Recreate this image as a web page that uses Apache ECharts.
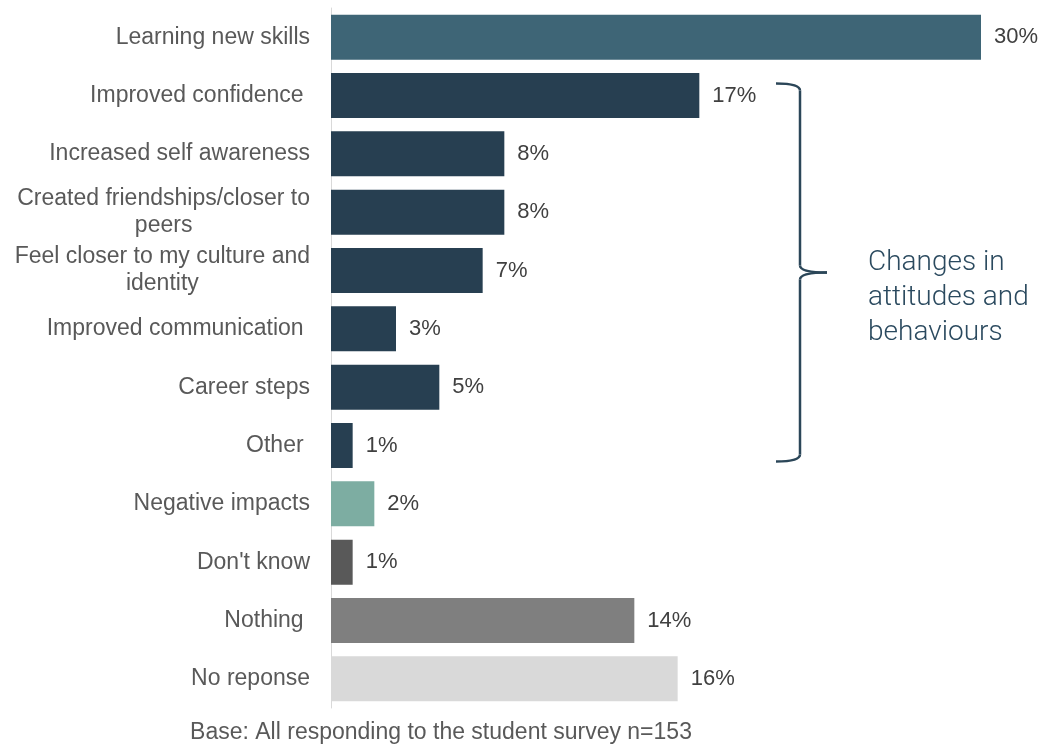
<!DOCTYPE html>
<html>
<head>
<meta charset="utf-8">
<script src="https://cdn.jsdelivr.net/npm/echarts@6/dist/echarts.min.js"></script>
<style>
  html, body { margin: 0; padding: 0; background: #ffffff; }
  #chart { width: 1043px; height: 744px; }
</style>
</head>
<body>
<div id="chart"></div>
<script>
// Reported impacts of taking part, share of respondents (%)
const categories = [
  'Learning new skills',
  'Improved confidence ',
  'Increased self awareness',
  'Created friendships/closer to\npeers',
  'Feel closer to my culture and\nidentity',
  'Improved communication ',
  'Career steps',
  'Other ',
  'Negative impacts',
  "Don't know",
  'Nothing ',
  'No reponse'
];
const values = [30, 17, 8, 8, 7, 3, 5, 1, 2, 1, 14, 16];
const barColors = [
  '#3e6576',
  '#273f51', '#273f51', '#273f51', '#273f51', '#273f51', '#273f51', '#273f51',
  '#7dada2',
  '#595959',
  '#7f7f7f',
  '#d9d9d9'
];
const groupLabel = 'Changes in\nattitudes and\nbehaviours';
const groupFirst = 1;   // 'Improved confidence'
const groupLast = 7;    // 'Other'
const baseNote = 'Base: All responding to the student survey n=153';

const FONT = '"Liberation Sans", Arial, sans-serif';
const chart = echarts.init(document.getElementById('chart'), null, { renderer: 'canvas' });

chart.setOption({
  backgroundColor: '#ffffff',
  animation: false,
  grid: { left: 331, right: 62, top: 8, bottom: 36, containLabel: false },
  xAxis: {
    type: 'value', min: 0, max: 30,
    show: false
  },
  yAxis: {
    type: 'category',
    inverse: true,
    data: categories,
    axisLine: { show: true, lineStyle: { color: '#d9d9d9', width: 1 } },
    axisTick: { show: false },
    axisLabel: {
      margin: 21,
      color: '#595959',
      fontFamily: FONT,
      fontSize: 23,
      lineHeight: 27,
      formatter: function (v) {
        const lines = v.split('\n');
        if (lines.length === 1) return v;
        return '{a|' + lines[0] + '}\n{b|' + lines[1] + '}';
      },
      rich: {
        a: { fontFamily: FONT, fontSize: 23, lineHeight: 27, color: '#595959' },
        b: { fontFamily: FONT, fontSize: 23, lineHeight: 27, color: '#595959', width: 245, align: 'center' }
      }
    }
  },
  series: [{
    type: 'bar',
    barWidth: 45,
    data: values.map((v, i) => ({ value: v, itemStyle: { color: barColors[i] } })),
    label: {
      show: true,
      position: 'right',
      distance: 13,
      color: '#404040',
      fontFamily: FONT,
      fontSize: 22,
      formatter: p => p.value + '%'
    }
  }]
});

// Curly bracket grouping the attitude/behaviour rows, placed from the category axis
const yTop = chart.convertToPixel({ yAxisIndex: 0 }, groupFirst) - 12;
const yBot = chart.convertToPixel({ yAxisIndex: 0 }, groupLast) + 16;
const yMid = (yTop + yBot) / 2;
const xL = 776, xV = 800, xTip = 827, r = 7;
const stroke = { stroke: '#2b4658', lineWidth: 2.5, fill: null };

chart.setOption({
  graphic: [
    {
      type: 'text',
      x: 441, y: 733,
      style: {
        text: baseNote, fill: '#595959', font: '23px ' + FONT,
        textAlign: 'center', textVerticalAlign: 'middle'
      }
    },
    { type: 'bezierCurve', shape: { x1: xL, y1: yTop, x2: xV, y2: yTop + r, cpx1: xV, cpy1: yTop }, style: stroke },
    { type: 'line', shape: { x1: xV, y1: yTop + r, x2: xV, y2: yMid - r }, style: stroke },
    { type: 'bezierCurve', shape: { x1: xV, y1: yMid - r, x2: xTip, y2: yMid, cpx1: xV, cpy1: yMid }, style: stroke },
    { type: 'bezierCurve', shape: { x1: xTip, y1: yMid, x2: xV, y2: yMid + r, cpx1: xV, cpy1: yMid }, style: stroke },
    { type: 'line', shape: { x1: xV, y1: yMid + r, x2: xV, y2: yBot - r }, style: stroke },
    { type: 'bezierCurve', shape: { x1: xV, y1: yBot - r, x2: xL, y2: yBot, cpx1: xV, cpy1: yBot }, style: stroke },
    {
      type: 'text',
      x: 868, y: yMid - 27,
      style: {
        text: groupLabel,
        fill: '#2b4a5f',
        font: '300 28px Roboto, "Liberation Sans", sans-serif',
        lineHeight: 35
      }
    }
  ]
});
</script>
</body>
</html>
